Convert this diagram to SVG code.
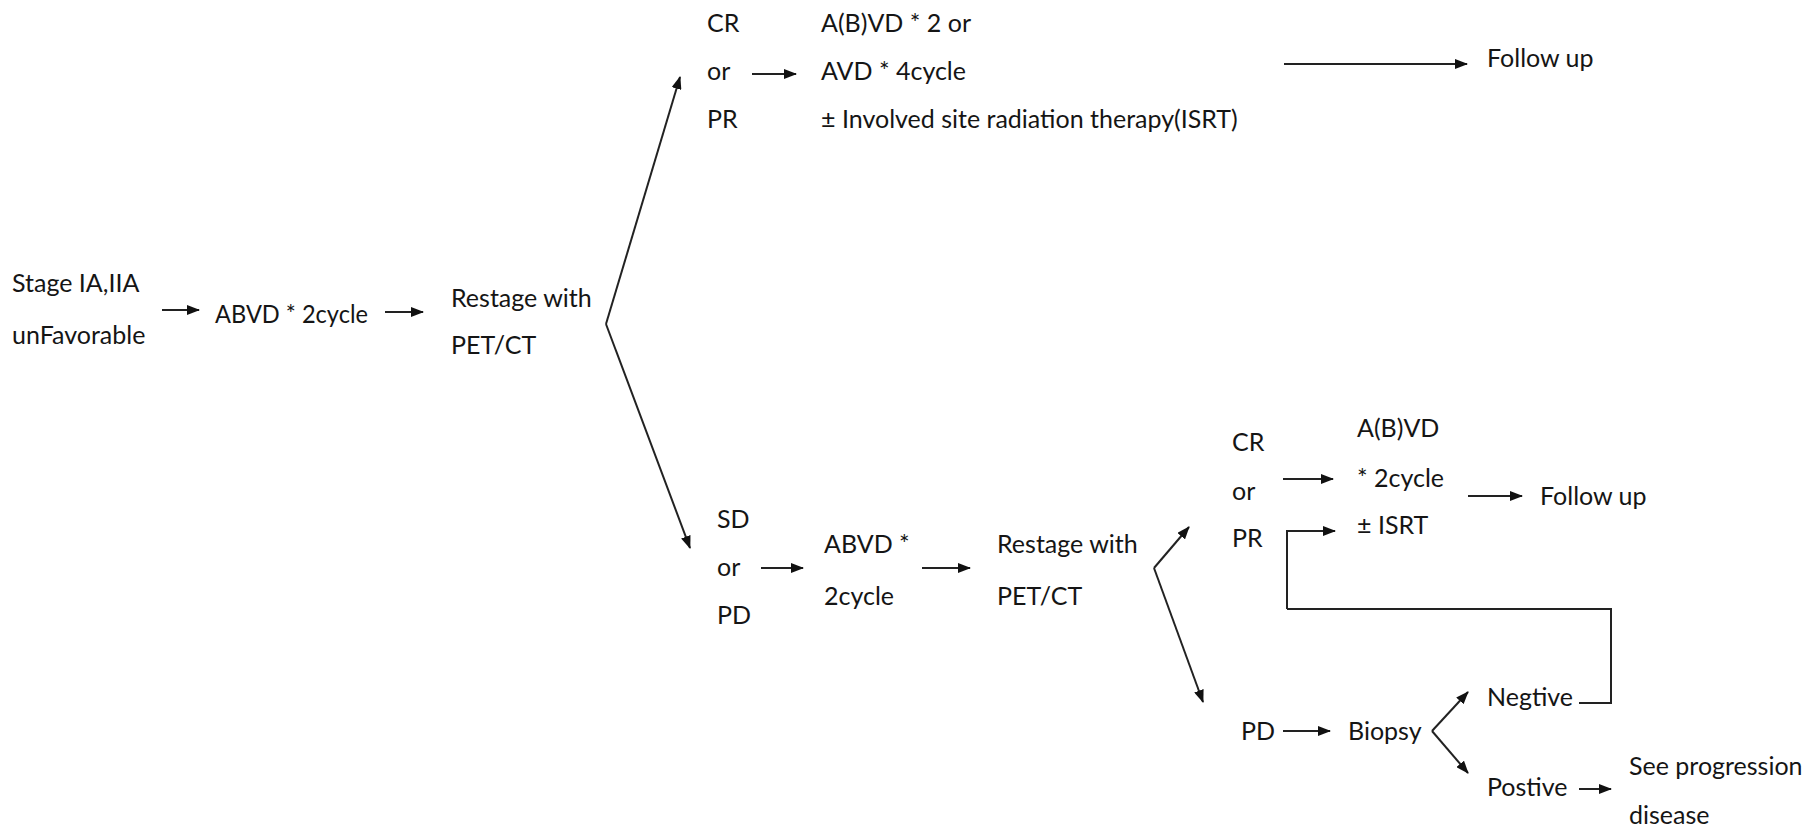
<svg xmlns="http://www.w3.org/2000/svg" width="1814" height="829" viewBox="0 0 1814 829">
<style>
text{font-family:Lato,"Open Sans","Liberation Sans",sans-serif;font-size:25px;fill:#151515}
.c{fill:none;stroke:#222;stroke-width:2}
</style>
<defs>
<marker id="ah" viewBox="0 0 13 10" refX="12" refY="5" markerWidth="13" markerHeight="10" markerUnits="userSpaceOnUse" orient="auto">
<path d="M0,0 L13,5 L0,10 Z" fill="#111"/>
</marker>
</defs>
<rect width="1814" height="829" fill="#fff"/>
<g id="connectors">
<line class="c" x1="162" y1="310" x2="199" y2="310" marker-end="url(#ah)"/>
<line class="c" x1="385" y1="312" x2="423" y2="312" marker-end="url(#ah)"/>
<line class="c" x1="606" y1="324" x2="680" y2="77" marker-end="url(#ah)"/>
<line class="c" x1="606" y1="324" x2="690" y2="548" marker-end="url(#ah)"/>
<line class="c" x1="752" y1="74" x2="796" y2="74" marker-end="url(#ah)"/>
<line class="c" x1="1284" y1="64" x2="1467" y2="64" marker-end="url(#ah)"/>
<line class="c" x1="761" y1="568" x2="803" y2="568" marker-end="url(#ah)"/>
<line class="c" x1="922" y1="568" x2="970" y2="568" marker-end="url(#ah)"/>
<line class="c" x1="1154" y1="568" x2="1189" y2="527" marker-end="url(#ah)"/>
<line class="c" x1="1154" y1="568" x2="1203" y2="702" marker-end="url(#ah)"/>
<line class="c" x1="1283" y1="479" x2="1333" y2="479" marker-end="url(#ah)"/>
<polyline class="c" points="1287,609 1287,531 1335,531" marker-end="url(#ah)"/>
<polyline class="c" points="1287,609 1611,609 1611,703 1579,703"/>
<line class="c" x1="1468" y1="496" x2="1522" y2="496" marker-end="url(#ah)"/>
<line class="c" x1="1283" y1="731" x2="1330" y2="731" marker-end="url(#ah)"/>
<line class="c" x1="1432" y1="731" x2="1468" y2="692" marker-end="url(#ah)"/>
<line class="c" x1="1432" y1="731" x2="1468" y2="773" marker-end="url(#ah)"/>
<line class="c" x1="1579" y1="789" x2="1611" y2="789" marker-end="url(#ah)"/>
</g>
<g id="n-stage"><text x="12" y="292">Stage IA,IIA</text><text x="12" y="344">unFavorable</text></g>
<g id="n-abvd1"><text x="215" y="323" textLength="153" lengthAdjust="spacingAndGlyphs">ABVD * 2cycle</text></g>
<g id="n-restage1"><text x="451" y="307">Restage with</text><text x="451" y="354">PET/CT</text></g>
<g id="n-crpr1"><text x="707" y="32">CR</text><text x="707" y="80">or</text><text x="707" y="128">PR</text></g>
<g id="n-avd"><text x="821" y="32">A(B)VD * 2 or</text><text x="821" y="80">AVD * 4cycle</text><text x="821" y="128">± Involved site radiation therapy(ISRT)</text></g>
<g id="n-follow1"><text x="1487" y="67">Follow up</text></g>
<g id="n-sdpd"><text x="717" y="528">SD</text><text x="717" y="576">or</text><text x="717" y="624">PD</text></g>
<g id="n-abvd2"><text x="824" y="553">ABVD *</text><text x="824" y="605">2cycle</text></g>
<g id="n-restage2"><text x="997" y="553">Restage with</text><text x="997" y="605">PET/CT</text></g>
<g id="n-crpr2"><text x="1232" y="451">CR</text><text x="1232" y="500">or</text><text x="1232" y="547">PR</text></g>
<g id="n-abvd3"><text x="1357" y="437">A(B)VD</text><text x="1357" y="487">* 2cycle</text><text x="1357" y="534">± ISRT</text></g>
<g id="n-follow2"><text x="1540" y="505">Follow up</text></g>
<g id="n-pd"><text x="1241" y="740">PD</text></g>
<g id="n-biopsy"><text x="1348" y="740">Biopsy</text></g>
<g id="n-neg"><text x="1487" y="706">Negtive</text></g>
<g id="n-pos"><text x="1487" y="796">Postive</text></g>
<g id="n-see"><text x="1629" y="775">See progression</text><text x="1629" y="824">disease</text></g>
</svg>
